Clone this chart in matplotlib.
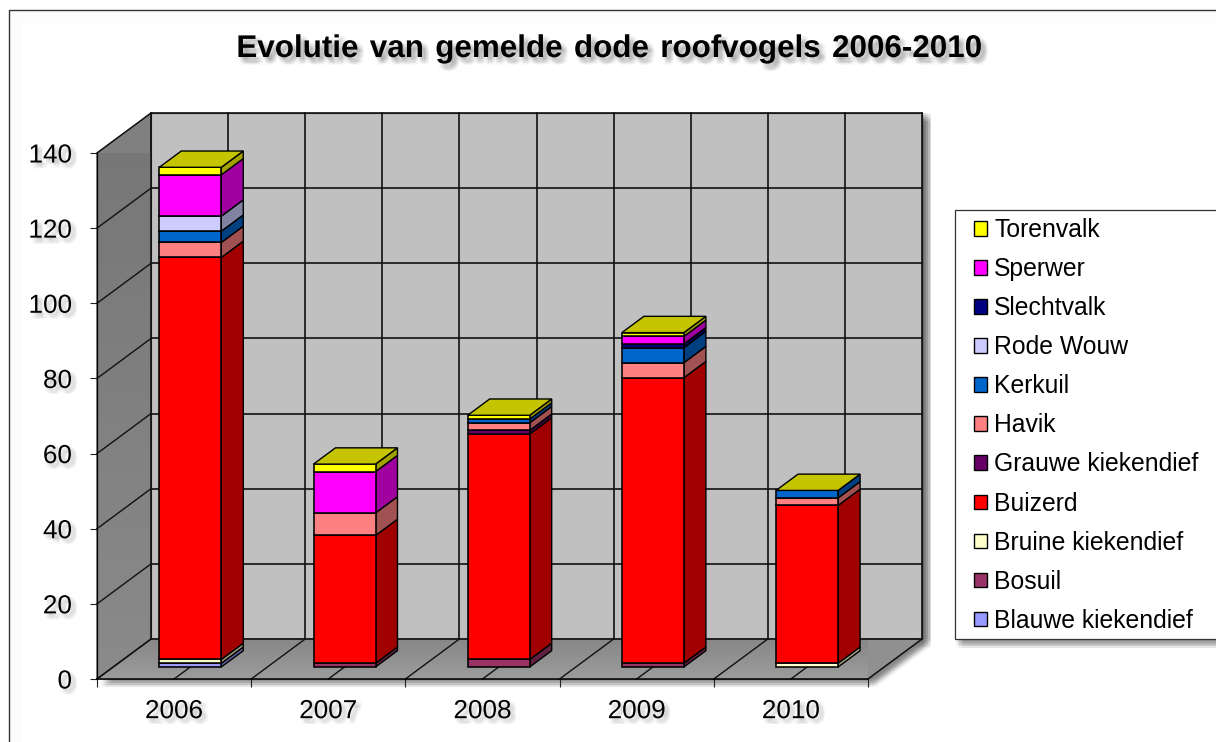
import numpy as np
import matplotlib
matplotlib.use('Agg')
import matplotlib.pyplot as plt
import matplotlib.patheffects as pe
from matplotlib.patches import Polygon, Rectangle
from matplotlib.lines import Line2D
from matplotlib.colors import to_rgb

plt.rcParams['font.family'] = ['Liberation Sans', 'DejaVu Sans']

W, H = 1216, 742

jaren = ['2006', '2007', '2008', '2009', '2010']

# stapelvolgorde van onder naar boven
blauwe_kiekendief = [1, 0, 0, 0, 0]
bosuil = [0, 1, 2, 1, 0]
bruine_kiekendief = [1, 0, 0, 0, 1]
buizerd = [107, 34, 60, 76, 42]
grauwe_kiekendief = [0, 0, 1, 0, 0]
havik = [4, 6, 2, 4, 2]
kerkuil = [3, 0, 1, 4, 2]
rode_wouw = [4, 0, 0, 0, 0]
slechtvalk = [0, 0, 0, 1, 0]
sperwer = [11, 11, 0, 2, 0]
torenvalk = [2, 2, 1, 1, 0]

namen = ['Blauwe kiekendief', 'Bosuil', 'Bruine kiekendief', 'Buizerd',
         'Grauwe kiekendief', 'Havik', 'Kerkuil', 'Rode Wouw', 'Slechtvalk',
         'Sperwer', 'Torenvalk']
reeksen = [blauwe_kiekendief, bosuil, bruine_kiekendief, buizerd,
           grauwe_kiekendief, havik, kerkuil, rode_wouw, slechtvalk,
           sperwer, torenvalk]
kleuren = ['#9999FF', '#993366', '#FFFFCC', '#FF0000', '#660066', '#FF8080',
           '#0066CC', '#CCCCFF', '#000080', '#FF00FF', '#FFFF00']

y_ticks = [0, 20, 40, 60, 80, 100, 120, 140]


def zacht(dx=3.0, dy=-3.0, alpha=0.045, r=1.6):
    # wazige schaduw, gestapeld uit een paar verschoven kopieen
    uit = []
    for ox in (-r, -r/2, 0, r/2, r):
        for oy in (-r, -r/2, 0, r/2, r):
            uit.append(pe.SimplePatchShadow(offset=(dx+ox, dy+oy), shadow_rgbFace='k', alpha=alpha))
    uit.append(pe.Normal())
    return uit


def donker(kleur, f):
    return tuple(c*f for c in to_rgb(kleur))


def fx(x):
    return x/W


def fy(y):
    return 1-y/H


fig = plt.figure(figsize=(W/100, H/100), dpi=100, facecolor='white')

# kader van de grafiek: alleen boven en links zichtbaar
fig.add_artist(Line2D([fx(9), fx(9), fx(W)], [fy(H), fy(10), fy(10)], color='#333333', lw=1.0))
for i in range(1, 7):
    fig.add_artist(Line2D([fx(9+i*2), fx(9+i*2), fx(W)], [fy(H), fy(10+i*2), fy(10+i*2)],
                          color='#000000', alpha=0.012, lw=1.5))

ax = fig.add_axes([fx(97), fy(679), 771/W, 526/H])
ax.set_xlim(0, 5)
ax.set_ylim(0, 140)
ax.patch.set_visible(False)

DX = 54/154.2
DY = 40/3.757
xmax = 5
ymax = 140

# wanden en vloer
achter = Polygon([(DX, DY), (xmax+DX, DY), (xmax+DX, ymax+DY), (DX, ymax+DY)],
                 fc='#C0C0C0', ec='#333333', lw=0.8, clip_on=False, zorder=1,
                 path_effects=zacht(dx=4, dy=-3, alpha=0.03, r=2.8))
ax.add_patch(achter)

links = Polygon([(0, 0), (DX, DY), (DX, ymax+DY), (0, ymax)], fc='#808080', ec='#333333',
                lw=0.8, clip_on=False, zorder=1)
ax.add_patch(links)
vloer = Polygon([(0, 0), (xmax, 0), (xmax+DX, DY), (DX, DY)], fc='#909090', ec='#333333',
                lw=0.8, clip_on=False, zorder=1, path_effects=zacht(dx=4, dy=-3, alpha=0.022, r=2.6))
ax.add_patch(vloer)

im = ax.imshow(np.linspace(0.46, 0.54, 64)[:, None], extent=(0, DX, 0, ymax+DY), cmap='gray',
               vmin=0, vmax=1, aspect='auto', origin='upper', zorder=1.1, clip_on=True)
im.set_clip_path(links)
im2 = ax.imshow(np.linspace(0.53, 0.61, 16)[:, None], extent=(0, xmax+DX, 0, DY), cmap='gray',
                vmin=0, vmax=1, aspect='auto', origin='upper', zorder=1.1, clip_on=True)
im2.set_clip_path(vloer)
ax.set_xlim(0, 5)
ax.set_ylim(0, 140)

# rasterlijnen
for v in y_ticks:
    ax.plot([DX, xmax+DX], [v+DY, v+DY], color='#111111', lw=1.2, clip_on=False, zorder=2)
    ax.plot([0, DX], [v, v+DY], color='#111111', lw=1.0, clip_on=False, zorder=2)
for g in np.arange(0, xmax+0.25, 0.5):
    ax.plot([g+DX, g+DX], [DY, ymax+DY], color='#111111', lw=1.2, clip_on=False, zorder=2)
    ax.plot([g, g+DX], [0, DY], color='#111111', lw=1.0, clip_on=False, zorder=2)

# gestapelde balken, 3D-zijkant en bovenkant
breedte = 62/154.2
diepte = 0.407
start = 0.3
x_pos = np.arange(len(jaren))+0.5
x0 = x_pos+start*DX
basis = np.full(len(jaren), start*DY)
for reeks, kleur in zip(reeksen, kleuren):
    w = np.array(reeks, dtype=float)
    m = w > 0
    ax.bar(x0[m], w[m], width=breedte, bottom=basis[m], color=kleur, edgecolor='black',
           linewidth=1.15, clip_on=False, zorder=5)
    for xb, yb, h in zip(x0[m], basis[m], w[m]):
        r = xb+breedte/2
        ax.add_patch(Polygon([(r, yb), (r+diepte*DX, yb+diepte*DY),
                              (r+diepte*DX, yb+h+diepte*DY), (r, yb+h)],
                             fc=donker(kleur, 0.63), ec='black', lw=1.0, clip_on=False, zorder=4.5))
    basis = basis+w
for xb, yb in zip(x0, basis):
    l = xb-breedte/2
    r = xb+breedte/2
    ax.add_patch(Polygon([(l, yb), (r, yb), (r+diepte*DX, yb+diepte*DY), (l+diepte*DX, yb+diepte*DY)],
                         fc=donker(kleuren[-1], 0.77), ec='black', lw=1.0, clip_on=False, zorder=5.5))

# assen
for s in ['top', 'right']:
    ax.spines[s].set_visible(False)
ax.spines['left'].set_linewidth(0.9)
ax.spines['bottom'].set_linewidth(1.1)
ax.spines['left'].set_zorder(3)
ax.spines['bottom'].set_zorder(3)
ax.set_yticks(y_ticks)
ax.set_yticklabels([str(v) for v in y_ticks], fontsize=18.8, path_effects=zacht(2.6, -2.6, 0.011, 1.7))
ax.tick_params(axis='y', length=5, width=0.8, pad=13, color='#222222')
ax.set_xticks(np.arange(0, xmax+1))
ax.set_xticklabels([])
ax.set_xticks(x_pos, minor=True)
ax.set_xticklabels(jaren, minor=True, fontsize=18.8, path_effects=zacht(2.6, -2.6, 0.011, 1.7))
ax.tick_params(axis='x', which='major', length=6, width=0.8, color='#222222')
ax.tick_params(axis='x', which='minor', length=0, pad=14.5)

# titel, met wat ruimere woordafstand
titel = 'Evolutie van gemelde dode roofvogels 2006-2010'.replace(' ', ' \u200a')
fig.text(fx(610), fy(49), titel, ha='center', va='center',
         fontsize=22.6, fontweight='bold', color='black', path_effects=zacht(3, -3.4, 0.017, 2.0))

# legenda: kader apart, want het loopt tot de rand van het plaatje
kader = Rectangle((fx(955), fy(639)), (W+4-955)/W, (639-210)/H, transform=fig.transFigure,
                  fc='white', ec='#333333', lw=0.9, zorder=6, clip_on=False,
                  path_effects=zacht(dx=3, dy=-4, alpha=0.02, r=2.4))
fig.add_artist(kader)
handles = [Rectangle((0, 0), 1, 1, fc=k, ec='black', lw=1.0) for k in kleuren[::-1]]
leg = fig.legend(handles, namen[::-1], loc='upper left', bbox_to_anchor=(fx(974), fy(218)),
                 bbox_transform=fig.transFigure, frameon=False, fontsize=17.8, borderpad=0,
                 borderaxespad=0, handlelength=0.53, handleheight=0.53, handletextpad=0.29,
                 labelspacing=0.61)
leg.set_zorder(7)

fig.savefig('out.png', dpi=100)
